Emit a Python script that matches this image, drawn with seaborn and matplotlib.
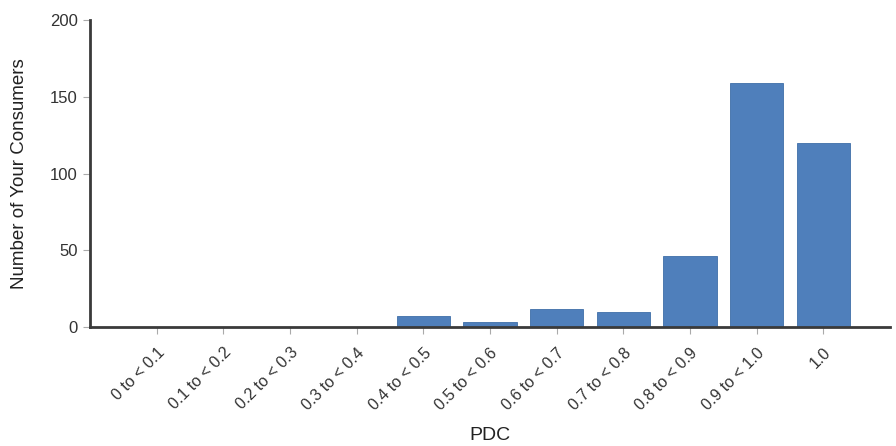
import matplotlib

matplotlib.use("Agg")

import matplotlib.pyplot as plt
import pandas as pd
import seaborn as sns

CATEGORIES = [
    "0 to < 0.1",
    "0.1 to < 0.2",
    "0.2 to < 0.3",
    "0.3 to < 0.4",
    "0.4 to < 0.5",
    "0.5 to < 0.6",
    "0.6 to < 0.7",
    "0.7 to < 0.8",
    "0.8 to < 0.9",
    "0.9 to < 1.0",
    "1.0",
]
CONSUMERS = [0, 0, 0, 0, 7, 3, 12, 10, 46, 159, 120]
Y_TICKS = [0, 50, 100, 150, 200]

BAR_COLOR = "#4f7fbb"
AXIS_COLOR = "#3a3a3a"

sns.set_theme(style="white")
plt.rcParams["font.family"] = ["Liberation Sans", "DejaVu Sans"]

df = pd.DataFrame({"pdc": CATEGORIES, "count": CONSUMERS})

fig = plt.figure(figsize=(8.96, 4.46), dpi=100)
ax = fig.add_axes([90 / 896, 1 - 327 / 446, 800 / 896, 307 / 446])

sns.barplot(
    data=df,
    x="pdc",
    y="count",
    order=CATEGORIES,
    color=BAR_COLOR,
    saturation=1,
    width=0.8,
    edgecolor="#3f6ea8",
    linewidth=0.6,
    ax=ax,
)

ax.set_xlim(-1.0, 11.0)
ax.set_ylim(0, 200)
ax.set_yticks(Y_TICKS)

for side in ["top", "right"]:
    ax.spines[side].set_visible(False)
for side in ["left", "bottom"]:
    ax.spines[side].set_color(AXIS_COLOR)
    ax.spines[side].set_linewidth(2)

ax.tick_params(axis="both", which="major", length=5, width=0.8, color="#aaaaaa",
               bottom=True, left=True)
ax.tick_params(axis="y", labelsize=12, labelcolor="#333333", pad=4)
ax.tick_params(axis="x", labelsize=11.5, labelcolor="#333333", pad=8)
plt.setp(ax.get_xticklabels(), rotation=45, ha="right", rotation_mode="anchor")

ax.set_xlabel("PDC", fontsize=14, color="#222222", va="center")
ax.xaxis.set_label_coords(0.5, -0.355)
ax.set_ylabel("Number of Your Consumers", fontsize=13.5, color="#222222", va="center")
ax.yaxis.set_label_coords(-0.0875, 0.5)

fig.savefig("out.png", dpi=100)
